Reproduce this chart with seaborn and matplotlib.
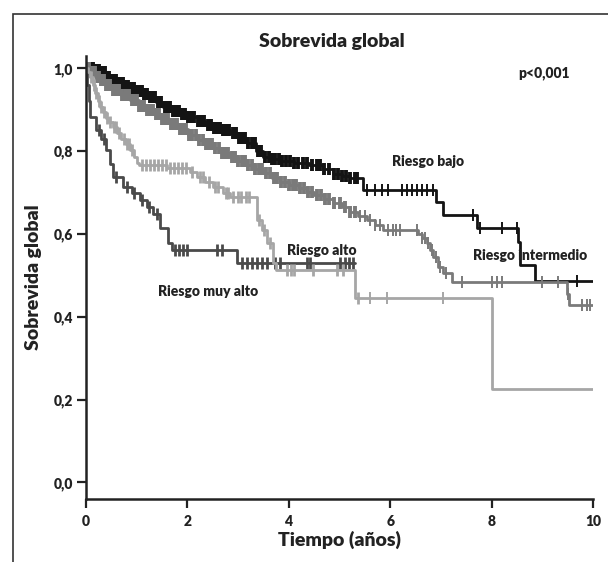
import numpy as np
import pandas as pd
import seaborn as sns
import matplotlib.pyplot as plt
from matplotlib.patches import Rectangle

# Kaplan-Meier steps (time in years, survival)
bajo_t = [0, 0.15, 0.28, 0.4, 0.5, 0.62, 0.73, 0.85, 1.0, 1.12, 1.25, 1.38, 1.52, 1.68, 1.85, 2.0,
          2.2, 2.35, 2.5, 2.68, 2.84, 3.0, 3.17, 3.35, 3.5, 3.65, 3.83, 4.1, 4.4, 4.67, 4.88, 5.05,
          5.2, 5.46, 6.9, 7.04, 7.71, 8.52, 8.56, 8.86, 10]
bajo_s = [1.0, 0.995, 0.99, 0.98, 0.972, 0.964, 0.957, 0.952, 0.946, 0.938, 0.93, 0.918, 0.907, 0.898, 0.89, 0.882,
          0.872, 0.864, 0.857, 0.85, 0.843, 0.832, 0.82, 0.80, 0.786, 0.78, 0.775, 0.771, 0.767, 0.757, 0.745, 0.74,
          0.735, 0.706, 0.677, 0.646, 0.614, 0.58, 0.525, 0.487, 0.487]
bajo_c = [0.1, 0.14, 0.18, 0.22, 0.26, 0.3, 0.34, 0.38, 0.42, 0.46, 0.5, 0.55, 0.6, 0.64, 0.68,
          0.72, 0.77, 0.82, 0.86, 0.9, 0.95, 1.0, 1.05, 1.1, 1.15, 1.2, 1.26, 1.32, 1.37, 1.42,
          1.48, 1.55, 1.6, 1.66, 1.72, 1.78, 1.84, 1.9, 1.96, 2.02, 2.08, 2.14, 2.2, 2.27, 2.33,
          2.4, 2.46, 2.52, 2.58, 2.64, 2.7, 2.77, 2.83, 2.9, 2.96, 3.02, 3.08, 3.14, 3.2, 3.27,
          3.33, 3.4, 3.46, 3.53, 3.6, 3.66, 3.73, 3.8, 3.87, 3.95, 4.02, 4.1, 4.18, 4.28, 4.35,
          4.45, 4.55, 4.62, 4.7, 4.8, 4.9, 4.97, 5.05, 5.12, 5.2, 5.3, 5.35, 5.54, 5.7, 5.84,
          5.96, 6.23, 6.33, 6.43, 6.53, 6.63, 6.73, 6.85, 7.64, 7.77, 8.2, 8.5, 9.68]

inter_t = [0, 0.1, 0.2, 0.28, 0.4, 0.53, 0.7, 0.87, 1.05, 1.2, 1.35, 1.5, 1.68, 1.85, 2.02, 2.2, 2.35,
           2.5, 2.68, 2.85, 3.0, 3.17, 3.33, 3.5, 3.67, 3.83, 4.0, 4.2, 4.35, 4.5, 4.7, 4.88, 5.05,
           5.2, 5.37, 5.54, 5.7, 5.86, 6.55, 6.62, 6.72, 6.78, 6.85, 6.95, 7.04, 7.21, 9.48, 9.52, 10]
inter_s = [1.0, 0.99, 0.98, 0.972, 0.96, 0.948, 0.935, 0.923, 0.91, 0.9, 0.89, 0.878, 0.866, 0.853, 0.84,
           0.828, 0.818, 0.807, 0.796, 0.786, 0.776, 0.766, 0.756, 0.746, 0.736, 0.726, 0.718, 0.71, 0.702, 0.694,
           0.684, 0.674, 0.664, 0.654, 0.643, 0.633, 0.622, 0.61, 0.60, 0.59, 0.578, 0.56, 0.545, 0.52, 0.505,
           0.485, 0.455, 0.428, 0.428]
inter_c = [0.06, 0.1, 0.14, 0.18, 0.22, 0.26, 0.3, 0.35, 0.4, 0.44, 0.48, 0.53, 0.58, 0.62, 0.66,
           0.71, 0.76, 0.8, 0.85, 0.9, 0.95, 1.0, 1.05, 1.1, 1.15, 1.21, 1.27, 1.32, 1.38, 1.44,
           1.5, 1.56, 1.62, 1.68, 1.74, 1.8, 1.86, 1.92, 1.98, 2.04, 2.1, 2.16, 2.23, 2.3, 2.36,
           2.42, 2.49, 2.55, 2.62, 2.68, 2.74, 2.8, 2.87, 2.94, 3.0, 3.07, 3.14, 3.2, 3.27, 3.34,
           3.41, 3.48, 3.55, 3.62, 3.7, 3.77, 3.85, 3.92, 4.0, 4.08, 4.15, 4.23, 4.3, 4.38, 4.46,
           4.55, 4.63, 4.72, 4.8, 4.9, 5.0, 5.1, 5.2, 5.3, 5.4, 5.5, 5.6, 5.7, 5.8, 5.95, 6.06,
           6.12, 6.2, 6.52, 6.62, 6.68, 6.75, 6.82, 6.9, 6.98, 7.1, 7.42, 8.0, 8.1, 8.2, 9.0,
           9.3, 9.5, 9.78, 9.88, 9.94]

alto_t = [0, 0.04, 0.08, 0.13, 0.18, 0.23, 0.28, 0.34, 0.4, 0.46, 0.53, 0.62, 0.7, 0.78, 0.87, 0.94,
          1.0, 1.05, 1.6, 2.05, 2.18, 2.35, 2.5, 2.7, 2.84, 3.37, 3.47, 3.57, 3.69, 3.75, 5.3, 8.0, 10]
alto_s = [1.0, 0.99, 0.979, 0.96, 0.94, 0.922, 0.907, 0.894, 0.88, 0.87, 0.858, 0.843, 0.83, 0.817, 0.803, 0.785,
          0.771, 0.766, 0.76, 0.75, 0.737, 0.725, 0.713, 0.70, 0.689, 0.633, 0.61, 0.578, 0.53, 0.513, 0.445,
          0.226, 0.226]
alto_c = [0.1, 0.15, 0.2, 0.25, 0.3, 0.36, 0.42, 0.48, 0.55, 0.6, 0.66, 0.74, 0.8, 0.84, 0.91,
          1.1, 1.18, 1.26, 1.34, 1.42, 1.5, 1.58, 1.66, 1.74, 1.82, 1.9, 1.97, 2.1, 2.25, 2.3,
          2.42, 2.55, 2.6, 2.76, 2.8, 2.9, 3.0, 3.05, 3.15, 3.22, 3.42, 3.52, 3.62, 3.96, 4.05,
          4.1, 4.48, 4.95, 5.07, 5.37, 5.6, 5.94, 7.04]

muy_t = [0, 0.02, 0.05, 0.08, 0.2, 0.3, 0.4, 0.47, 0.53, 0.73, 0.9, 1.06, 1.2, 1.32, 1.46,
         1.62, 1.7, 2.97, 5.3]
muy_s = [1.0, 0.96, 0.92, 0.883, 0.851, 0.83, 0.802, 0.77, 0.737, 0.713, 0.70, 0.681, 0.665, 0.648, 0.614,
         0.578, 0.561, 0.53, 0.53]
muy_c = [0.25, 0.35, 0.6, 0.8, 0.95, 1.1, 1.25, 1.4, 1.76, 1.84, 1.92, 2.0, 2.58, 2.68,
         3.08, 3.18, 3.28, 3.38, 3.48, 3.57, 3.73, 3.83, 4.36, 4.42, 5.01, 5.1, 5.18, 5.27]

groups = [
    ("Riesgo bajo", bajo_t, bajo_s, bajo_c, "#141414", 2.8),
    ("Riesgo intermedio", inter_t, inter_s, inter_c, "#7a7a7a", 2.8),
    ("Riesgo muy alto", muy_t, muy_s, muy_c, "#4a4a4a", 2.0),
    ("Riesgo alto", alto_t, alto_s, alto_c, "#a6a6a6", 2.0),
]

sns.set_style("ticks")
plt.rcParams['font.family'] = ['Lato', 'DejaVu Sans']
plt.rcParams['font.weight'] = 'bold'

fig = plt.figure(figsize=(6.08, 5.62), dpi=100)
ax = fig.add_axes([86 / 608, 1 - 499 / 562, 507 / 608, 443 / 562])

for name, t, s, c, col, mw in groups:
    d = pd.DataFrame({"t": t, "s": s})
    sns.lineplot(data=d, x="t", y="s", ax=ax, color=col, lw=2, drawstyle="steps-post",
                 estimator=None, sort=False)
    t_arr = np.array(t)
    s_arr = np.array(s)
    c_arr = np.array(c)
    cy = s_arr[np.searchsorted(t_arr, c_arr, side="right") - 1]
    # dense early censoring looks blocky, later marks are thin ticks
    early = c_arr < 5.4
    ax.plot(c_arr[early], cy[early], ls="none", marker="|", ms=8, mew=mw, color=col)
    ax.plot(c_arr[~early], cy[~early], ls="none", marker="|", ms=8, mew=1.4, color=col)

ax.set_xlim(0, 10)
ax.set_ylim(-0.0403, 1.0297)
ax.set_xticks([0, 2, 4, 6, 8, 10])
ax.set_yticks([0, 0.2, 0.4, 0.6, 0.8, 1.0])
ax.set_yticklabels(["0,0", "0,2", "0,4", "0,6", "0,8", "1,0"])
ax.tick_params(length=6.5, width=1.6, color="#222222", labelsize=10, pad=3)
ax.tick_params(axis="x", pad=5)
for lab in ax.get_xticklabels() + ax.get_yticklabels():
    lab.set_fontweight("heavy")
    lab.set_color("#222222")
sns.despine(ax=ax)
for sp in ["left", "bottom"]:
    ax.spines[sp].set_linewidth(1.8)
    ax.spines[sp].set_color("#222222")

ax.set_xlabel("Tiempo (años)", fontsize=14, fontweight="heavy", color="#222222", labelpad=2)
ax.set_ylabel("Sobrevida global", fontsize=14, fontweight="heavy", color="#222222", labelpad=8)

fig.text(332 / 608, 1 - 42 / 562, "Sobrevida global", ha="center", va="center",
         fontsize=14, fontweight="heavy", color="#222222")
fig.text(544 / 608, 1 - 73 / 562, "p<0,001", ha="center", va="center",
         fontsize=10, fontweight="heavy", color="#222222")

ax.text(6.04, 0.774, "Riesgo bajo", fontsize=10, fontweight="heavy", color="#222222", va="center")
ax.text(7.63, 0.549, "Riesgo intermedio", fontsize=10, fontweight="heavy", color="#222222", va="center")
ax.text(3.96, 0.561, "Riesgo alto", fontsize=10, fontweight="heavy", color="#222222", va="center")
ax.text(1.42, 0.46, "Riesgo muy alto", fontsize=10, fontweight="heavy", color="#222222", va="center")

fig.add_artist(Rectangle((13 / 608, -0.05), 1.1, 1.05 - 14 / 562, transform=fig.transFigure,
                         fill=False, lw=1.2, ec="#333333", clip_on=False))

fig.savefig("out.png", dpi=100)
